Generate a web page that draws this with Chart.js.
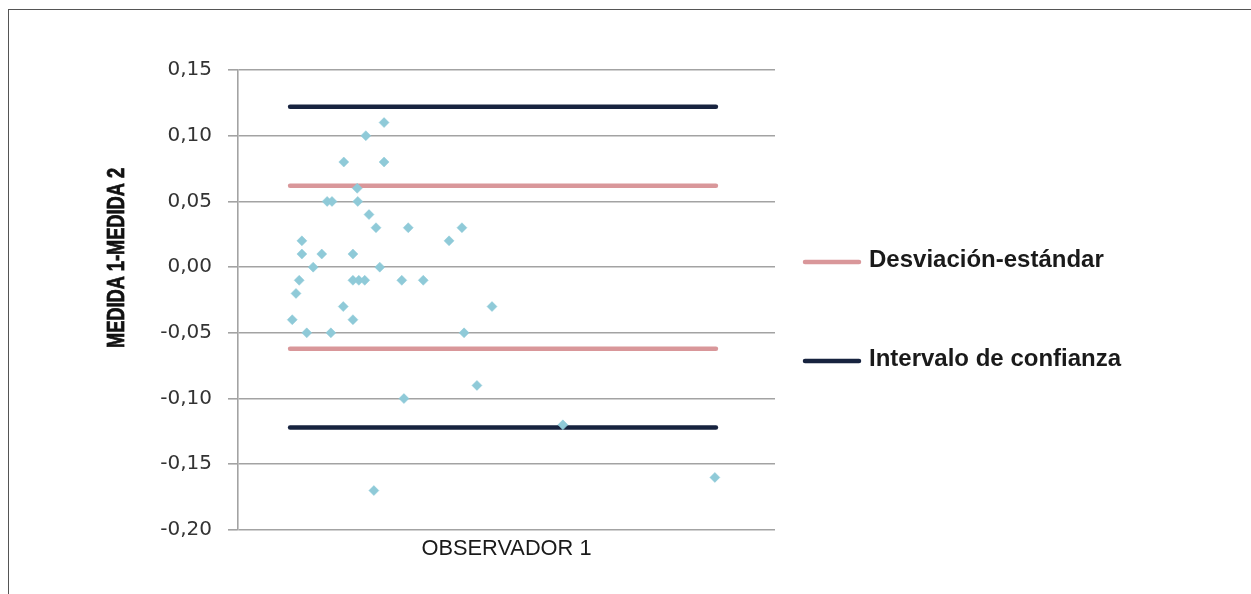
<!DOCTYPE html>
<html>
<head>
<meta charset="utf-8">
<script src="https://cdn.jsdelivr.net/npm/chart.js@4/dist/chart.umd.min.js"></script>
<style>
  html, body { margin: 0; padding: 0; background: #fff; overflow: hidden; }
  #wrap { position: relative; width: 1251px; height: 594px; }
  #frame { position: absolute; left: 8px; top: 9px; width: 1300px; height: 700px;
           border-top: 1.5px solid #555; border-left: 1.5px solid #555; pointer-events: none; }
  canvas { position: absolute; left: 0; top: 0; }
</style>
</head>
<body>
<div id="wrap">
  <canvas id="c" width="1251" height="594"></canvas>
  <div id="frame"></div>
</div>
<script>
// ---- data ----
const obsX = [27.2, 23.8, 19.7, 27.2, 22.2, 16.6, 17.5, 22.3, 24.4, 25.7, 31.7, 41.7,
              11.9, 39.3, 11.9, 15.6, 21.4, 14.0, 26.4, 11.4, 21.4, 22.5, 23.6, 30.5,
              34.5, 10.8, 19.6, 47.3, 10.1, 21.4, 12.8, 17.3, 42.1, 44.5, 30.9, 25.3,
              60.5, 88.8];
const diffY = [0.11, 0.10, 0.08, 0.08, 0.06, 0.05, 0.05, 0.05, 0.04, 0.03, 0.03, 0.03,
               0.02, 0.02, 0.01, 0.01, 0.01, 0.00, 0.00, -0.01, -0.01, -0.01, -0.01, -0.01,
               -0.01, -0.02, -0.03, -0.03, -0.04, -0.04, -0.05, -0.05, -0.05, -0.09, -0.10, -0.17,
               -0.12, -0.16];
const lineXRange = [9.7, 89.0];
const sdLimits = [0.062, -0.062];
const ciLimits = [0.122, -0.122];
const seriesLabels = ['Desviación-estándar', 'Intervalo de confianza'];
const yTitle = 'MEDIDA 1-MEDIDA 2';
const xTitle = 'OBSERVADOR 1';
const yMin = -0.20, yMax = 0.15, yStep = 0.05;

const PINK = '#D9979A';
const NAVY = '#17233F';
const AQUA = '#8FCAD8';

const points = obsX.map((x, i) => ({ x: x, y: diffY[i] }));
function hline(y) { return lineXRange.map(x => ({ x: x, y: y })); }

const lineBase = { type: 'line', borderWidth: 4.5, pointRadius: 0, fill: false,
                   borderCapStyle: 'round', order: 1 };

const datasets = [
  { type: 'scatter', label: 'Diferencias', data: points, pointStyle: 'rectRot',
    pointRadius: 5, pointBackgroundColor: AQUA, pointBorderColor: AQUA,
    pointBorderWidth: 0.5, order: 0 },
  Object.assign({ label: seriesLabels[0], data: hline(sdLimits[0]), borderColor: PINK }, lineBase),
  Object.assign({ label: seriesLabels[0] + ' inf', data: hline(sdLimits[1]), borderColor: PINK }, lineBase),
  Object.assign({ label: seriesLabels[1], data: hline(ciLimits[0]), borderColor: NAVY }, lineBase),
  Object.assign({ label: seriesLabels[1] + ' inf', data: hline(ciLimits[1]), borderColor: NAVY }, lineBase)
];

function fitText(ctx, text, cx, cy, maxW, rot, heavy) {
  ctx.save();
  ctx.translate(cx, cy);
  if (rot) ctx.rotate(rot);
  const w = ctx.measureText(text).width;
  if (w > maxW) ctx.scale(maxW / w, 1);
  ctx.textAlign = 'center';
  ctx.textBaseline = 'middle';
  ctx.fillText(text, 0, 0);
  if (heavy) {
    ctx.lineWidth = heavy;
    ctx.strokeStyle = ctx.fillStyle;
    ctx.strokeText(text, 0, 0);
  }
  ctx.restore();
}

const decor = {
  id: 'decor',
  afterDraw(chart) {
    const ctx = chart.ctx;
    const area = chart.chartArea;
    // Y title
    ctx.save();
    ctx.fillStyle = '#111';
    ctx.font = 'bold 24px "Liberation Sans Narrow", "Liberation Sans", Arial, sans-serif';
    fitText(ctx, yTitle, 117, 258, 180, -Math.PI / 2, 0.8);
    // X title
    ctx.fillStyle = '#1a1a1a';
    ctx.font = '22px "Liberation Sans Narrow", "Liberation Sans", Arial, sans-serif';
    fitText(ctx, xTitle, (area.left + area.right) / 2, 549, 170, 0, 0);
    // Legend
    const items = [
      { label: seriesLabels[0], color: PINK, y: 261 },
      { label: seriesLabels[1], color: NAVY, y: 360 }
    ];
    ctx.font = 'bold 24px "Liberation Sans", Arial, sans-serif';
    ctx.textAlign = 'left';
    ctx.textBaseline = 'middle';
    items.forEach(it => {
      ctx.strokeStyle = it.color;
      ctx.lineWidth = 4.5;
      ctx.lineCap = 'round';
      ctx.beginPath();
      ctx.moveTo(805, it.y + 1);
      ctx.lineTo(859, it.y + 1);
      ctx.stroke();
      ctx.fillStyle = '#1a1a1a';
      ctx.fillText(it.label, 869, it.y - 1);
    });
    ctx.restore();
  }
};

new Chart(document.getElementById('c'), {
  type: 'scatter',
  data: { datasets: datasets },
  options: {
    responsive: false,
    animation: false,
    devicePixelRatio: 1,
    layout: { padding: { left: 0, right: 476, top: 70, bottom: 64 } },
    plugins: { legend: { display: false }, tooltip: { enabled: false } },
    scales: {
      x: { type: 'linear', min: 0, max: 100, display: false },
      y: {
        type: 'linear', min: yMin, max: yMax,
        afterFit(scale) { scale.width = 238; },
        ticks: {
          stepSize: yStep,
          padding: 16,
          color: '#333333',
          font: { family: '"DejaVu Sans", sans-serif', size: 20 },
          callback: v => (Math.abs(v) < 1e-9 ? 0 : v).toFixed(2).replace('.', ',')
        },
        grid: { color: '#A3A3A3', lineWidth: 1.6, tickLength: 10, drawTicks: true },
        border: { display: true, color: '#A3A3A3', width: 1.6 }
      }
    }
  },
  plugins: [decor]
});
</script>
</body>
</html>
